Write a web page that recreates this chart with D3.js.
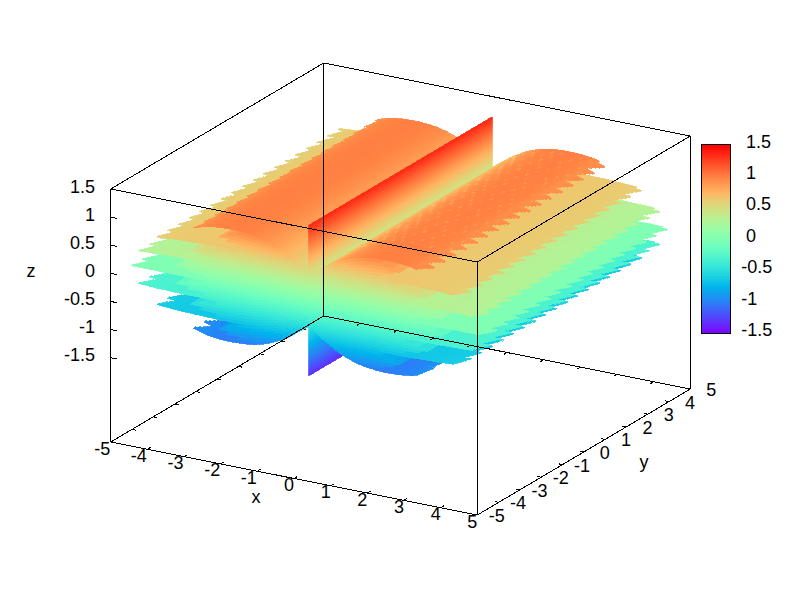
<!DOCTYPE html>
<html><head><meta charset="utf-8">
<style>html,body{margin:0;padding:0;background:#fff}svg{display:block}
text{font-family:"Liberation Sans",Arial,sans-serif;font-size:18px;fill:#000}</style>
<script src="https://cdn.jsdelivr.net/npm/d3@7/dist/d3.min.js"></script>
</head><body><svg id="c" width="800" height="600"></svg>
<script>
// Tick labels
const xTicks=[-5,-4,-3,-2,-1,0,1,2,3,4,5];
const yTicks=[-5,-4,-3,-2,-1,0,1,2,3,4,5];
const zTicks=[-1.5,-1,-0.5,0,0.5,1,1.5];
// Sheet standing at x = 0
const sheetY=[-4.3,4.3];
const sheetZ=[-1.33,1.33];
// Layer profiles: |x| stations and z height
const domeX=[0,0.25,0.5,0.75,1,1.25,1.5,1.75,2,2.25,2.5,2.75,3,3.15];
const domeZ=[0.45,0.57,0.69,0.79,0.87,0.93,0.97,0.99,1.0,1.0,0.99,0.97,0.93,0.89];
const shelfX=[0,0.25,0.5,0.75,1,1.5,2,2.5,3,3.5,4,4.15,4.65,4.85];
const upperZ=[0.27,0.36,0.44,0.51,0.56,0.62,0.65,0.65,0.64,0.63,0.61,0.60];
const lowerZ=[0.13,0.18,0.22,0.25,0.27,0.31,0.33,0.33,0.32,0.32,0.31,0.31,0.29];
const flatZ=[0,0,0,0,0,0,0,0,0,0,0,0,0,0];
// Outer edge saw-tooth (x offset), repeating along y
const edgeSteps=[-0.2,-0.15,-0.1,-0.05,0];
// Soft shading between neighbouring layers near the front
const blendStops=[0.17,0.33,0.5,0.67,0.83];
const blendReach=[0.62,0.72,0.78,0.72,0.62];
// Lighter flecks on the right-hand dome
const fleckZ=[-0.07,-0.04,0,-0.08,-0.03,-0.06,0];

const svg=d3.select("#c");
const xToH=d3.scaleLinear([-5,5],[0,366.6]), xToV=d3.scaleLinear([-5,5],[0,73]);
const yToH=d3.scaleLinear([-5,5],[0,213]), yToV=d3.scaleLinear([-5,5],[0,-126]);
const zToV=d3.scaleLinear([-3,1.5],[0,-253]);
const P=(x,y,z)=>[110.7+xToH(x)+yToH(y),442+xToV(x)+yToV(y)+zToV(z)];
const pal=t=>{const r=Math.min(1,Math.abs(2*t-0.5)),g=Math.max(0,Math.sin(Math.PI*t)),b=Math.max(0,Math.cos(Math.PI*t/2));
  return d3.rgb(r*255,g*255,b*255).formatHex();};
const color=d3.scaleSequential(pal).domain([-1.5,1.5]);

const surf=svg.append("g").attr("shape-rendering","crispEdges").attr("stroke-width",0.8);
const quad=(pts,z)=>{const c=color(z);surf.append("polygon").attr("points",pts.map(p=>p.map(v=>v.toFixed(1)).join(",")).join(" ")).attr("fill",c).attr("stroke",c);};

const layers=[
 {s:-1,X:domeX,Z:domeZ},{s:-1,X:shelfX,Z:upperZ},{s:-1,X:shelfX,Z:lowerZ},{s:1,X:shelfX,Z:flatZ},
 {s:1,X:shelfX,Z:lowerZ},{s:1,X:shelfX,Z:upperZ},{s:1,X:domeX,Z:domeZ}];
layers.forEach(l=>{l.xs=l.X.slice(0,l.Z.length);l.tip=l.xs[l.xs.length-1];l.zAt=d3.scaleLinear(l.xs,l.Z.map(v=>v*l.s));});
const yA=sheetY[0],yB=sheetY[1];
const stepDy=0.1;
const bandDx=0.08;
function ordered(tip,side){
  const cuts=d3.range(0,tip,bandDx).concat([tip]);
  const seq=d3.range(cuts.length-1).map(i=>[cuts[i],cuts[i+1]]);
  return side<0?seq.reverse():seq;
}
const strip=(side,zAt,[a,b])=>quad([P(side*a,yA,zAt(a)),P(side*b,yA,zAt(b)),P(side*b,yB,zAt(b)),P(side*a,yB,zAt(a))],zAt((a+b)/2));
function drawLayer(side,l){
  const inner=l.tip-0.3;
  const teeth=()=>{
    d3.range(yA,yB-1e-6,stepDy).forEach((y0,i)=>{
      const k=side>0?i%edgeSteps.length:edgeSteps.length-1-i%edgeSteps.length;
      const b=l.tip+edgeSteps[k],y1=Math.min(yB,y0+stepDy);
      quad([P(side*inner,y0,l.zAt(inner)),P(side*b,y0,l.zAt(b)),P(side*b,y1,l.zAt(b)),P(side*inner,y1,l.zAt(inner))],l.zAt((inner+b)/2));
    });
  };
  if(side<0)teeth();
  ordered(inner,side).forEach(s=>strip(side,l.zAt,s));
  if(side>0)teeth();
}
function drawBlend(side,lo,hi,t,reach){
  const tip=Math.min(lo.tip,hi.tip)*reach;
  const zAt=x=>lo.zAt(x)*(1-t)+hi.zAt(x)*t;
  ordered(tip,side).forEach(s=>strip(side,zAt,s));
}
function drawSide(side){
  layers.forEach((l,i)=>{
    if(i>0)blendStops.forEach((t,j)=>drawBlend(side,layers[i-1],l,t,blendReach[j]));
    drawLayer(side,l);
  });
}
drawSide(-1);
d3.range(sheetZ[0],sheetZ[1]-1e-6,0.04).forEach(z0=>{
  const z1=z0+0.04;
  quad([P(0,yA,z0),P(0,yB,z0),P(0,yB,z1),P(0,yA,z1)],(z0+z1)/2);
});
drawSide(1);
// flecks on the right dome
const dome=layers[6];
let f=0;
d3.range(-3.0,4.1,0.27).forEach((y0,r)=>{
  d3.range(0.7+(r%2)*0.13,2.95,0.26).forEach(x0=>{
    const dz=fleckZ[f++%fleckZ.length];
    if(dz===0)return;
    const zz=dome.zAt(x0);
    quad([P(x0,y0,zz),P(x0+0.05,y0,zz),P(x0+0.05,y0+0.12,zz),P(x0,y0+0.12,zz)],zz+dz);
  });
});

// Box
const lines=svg.append("g").attr("stroke","#000").attr("stroke-width",1).attr("shape-rendering","crispEdges");
const seg=(a,b)=>lines.append("line").attr("x1",a[0]).attr("y1",a[1]).attr("x2",b[0]).attr("y2",b[1]);
const zb=-3,zt=1.5;
[[-5,-5],[5,-5],[5,5],[-5,5]].forEach((c,i,arr)=>{
  const n=arr[(i+1)%4];
  seg(P(c[0],c[1],zb),P(n[0],n[1],zb));
  seg(P(c[0],c[1],zt),P(n[0],n[1],zt));
  seg(P(c[0],c[1],zb),P(c[0],c[1],zt));
});
xTicks.forEach(v=>{seg(P(v,-5,zb),P(v,-4.84,zb));seg(P(v,5,zb),P(v,4.84,zb));});
yTicks.forEach(v=>{seg(P(5,v,zb),P(4.89,v,zb));seg(P(-5,v,zb),P(-4.89,v,zb));});
zTicks.forEach(v=>{seg(P(-5,-5,v),P(-4.84,-5,v));});

const label=(x,y,t,a)=>svg.append("text").attr("x",x).attr("y",y).attr("text-anchor",a||"middle").attr("dominant-baseline","central").text(t);
xTicks.forEach(v=>{const p=P(v,-5,zb);label(p[0]-(v<0?8.5:5),p[1]+6.5,v);});
yTicks.forEach(v=>{const p=P(5,v,zb);label(p[0]+(v<0?19.5:21),p[1]+1,v);});
zTicks.forEach(v=>{const p=P(-5,-5,v);label(95,p[1]-2.5,v,"end");});
label(256,497,"x");label(644,462,"y");label(31,271,"z");

// Colour box
const cbY=d3.scaleLinear([-1.5,1.5],[333.3,144.5]);
const cb=svg.append("g");
const cz=d3.range(-1.5,1.5,0.02);
cb.selectAll("rect").data(cz).join("rect").attr("shape-rendering","crispEdges").attr("x",702).attr("width",29)
  .attr("y",d=>cbY(d+0.02)).attr("height",d=>cbY(d)-cbY(d+0.02)+0.6).attr("fill",d=>color(d+0.01));
cb.append("rect").attr("x",701.5).attr("y",144.5).attr("width",29).attr("height",189).attr("fill","none").attr("stroke","#000").attr("shape-rendering","crispEdges");
zTicks.forEach(v=>{const y=Math.round(cbY(v))+0.5;
  if(Math.abs(v)<1.5){seg([702,y],[708,y]);seg([724,y],[730,y]);}
  label(v<0?741.3:746,cbY(v)-3,v,"start");});
</script></body></html>
